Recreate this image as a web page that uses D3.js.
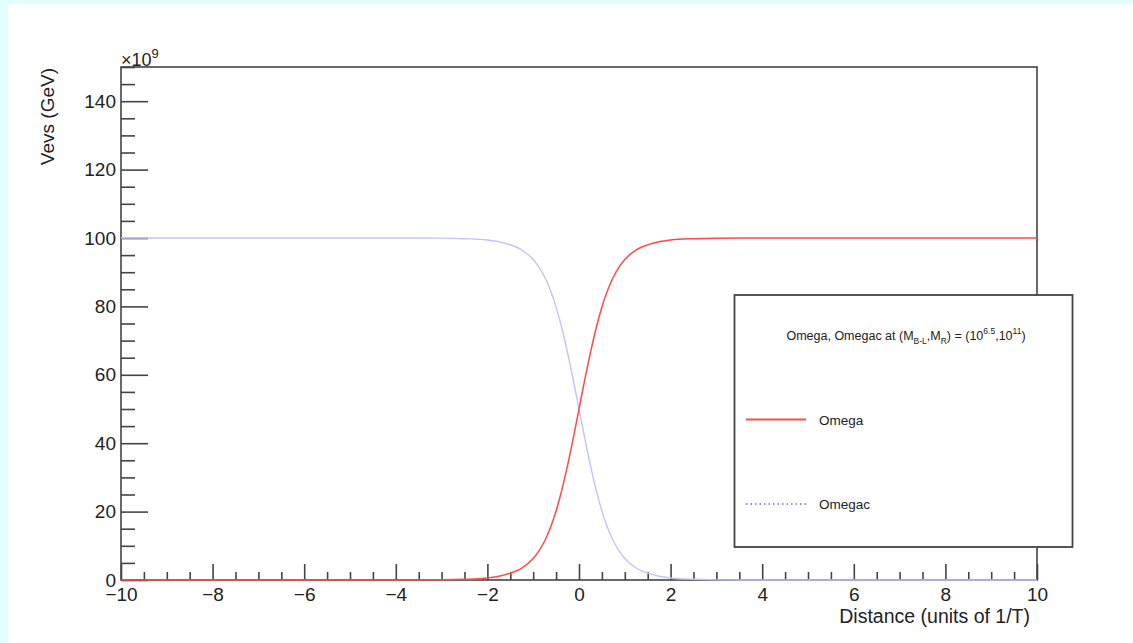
<!DOCTYPE html>
<html>
<head>
<meta charset="utf-8">
<script src="https://cdn.jsdelivr.net/npm/d3@7"></script>
<style>
  html, body { margin: 0; padding: 0; background: #e0fefe; }
  svg { display: block; }
  text { font-family: "Liberation Sans", Arial, Helvetica, sans-serif; fill: #222; }
</style>
</head>
<body>
<svg id="chart" width="1133" height="643"></svg>
<script>
// ---- data (values in units of 10^9 GeV) ----
const distance = [-10, -8, -6, -4, -3, -2.5, -2, -1.75, -1.5, -1.25, -1, -0.875, -0.75, -0.625, -0.5, -0.375, -0.25, -0.125,
                  0, 0.125, 0.25, 0.375, 0.5, 0.625, 0.75, 0.875, 1, 1.25, 1.5, 1.75, 2, 2.5, 3, 4, 6, 8, 10];
const omega    = [0, 0, 0, 0, 0.05, 0.2, 0.6, 1.1, 2.0, 3.5, 6.3, 8.5, 11.4, 15.3, 20.2, 26.3, 33.5, 41.5,
                  50, 58.5, 66.5, 73.7, 79.8, 84.7, 88.6, 91.5, 93.7, 96.5, 98.0, 98.9, 99.4, 99.8, 99.95, 100, 100, 100, 100];
const omegac   = [100, 100, 100, 100, 99.95, 99.8, 99.4, 98.9, 98.0, 96.5, 93.7, 91.5, 88.6, 84.7, 79.8, 73.7, 66.5, 58.5,
                  50, 41.5, 33.5, 26.3, 20.2, 15.3, 11.4, 8.5, 6.3, 3.5, 2.0, 1.1, 0.6, 0.2, 0.05, 0, 0, 0, 0];
const xMajorTicks = [-10, -8, -6, -4, -2, 0, 2, 4, 6, 8, 10];
const yMajorTicks = [0, 20, 40, 60, 80, 100, 120, 140];
const seriesNames = ["Omega", "Omegac"];

// ---- layout ----
const svg = d3.select("#chart");
const L = 121, R = 1037, T = 67, B = 580;

svg.append("rect").attr("x", 8).attr("y", 4).attr("width", 1125).attr("height", 639).attr("fill", "#ffffff");

const x = d3.scaleLinear().domain([-10, 10]).range([L, R]);
const y = d3.scaleLinear().domain([0, 150]).range([B, T]);

const fmt = d => (d < 0 ? "\u2212" + Math.abs(d) : String(d));

// minor ticks
const xMinor = d3.range(-10, 10.001, 0.5).filter(v => Math.abs(v / 2 - Math.round(v / 2)) > 1e-6);
const yMinor = d3.range(0, 150.001, 5).filter(v => v % 20 !== 0);

const gxMinor = svg.append("g").attr("transform", `translate(0,${B})`)
  .call(d3.axisBottom(x).tickValues(xMinor).tickSize(-8).tickFormat(""));
const gx = svg.append("g").attr("transform", `translate(0,${B})`)
  .call(d3.axisBottom(x).tickValues(xMajorTicks).tickSize(-16).tickPadding(8).tickFormat(fmt));
const gyMinor = svg.append("g").attr("transform", `translate(${L},0)`)
  .call(d3.axisLeft(y).tickValues(yMinor).tickSize(-14).tickFormat(""));
const gy = svg.append("g").attr("transform", `translate(${L},0)`)
  .call(d3.axisLeft(y).tickValues(yMajorTicks).tickSize(-27).tickPadding(5).tickFormat(fmt));

[gxMinor, gx, gyMinor, gy].forEach(g => {
  g.selectAll(".domain").remove();
  g.selectAll("line").attr("stroke", "#444").attr("stroke-width", 1.6);
  g.selectAll("text").style("font-size", "19px").attr("fill", "#222");
});

// frame
svg.append("rect").attr("x", L).attr("y", T).attr("width", R - L).attr("height", B - T)
  .attr("fill", "none").attr("stroke", "#444").attr("stroke-width", 1.6);

// curves
const pts = (vals) => distance.map((d, i) => [d, vals[i]]);
const line = d3.line().x(d => x(d[0])).y(d => y(d[1])).curve(d3.curveMonotoneX);

svg.append("path").attr("d", line(pts(omegac))).attr("fill", "none")
  .attr("stroke", "#c2c2ff").attr("stroke-width", 1.4);
svg.append("path").attr("d", line(pts(omega))).attr("fill", "none")
  .attr("stroke", "#ff4a4a").attr("stroke-width", 1.5);

// axis titles
svg.append("text").attr("x", R - 7).attr("y", 623).attr("text-anchor", "end")
  .style("font-size", "19.5px").text("Distance (units of 1/T)");
svg.append("text").attr("transform", `translate(54,${T + 1}) rotate(-90)`).attr("text-anchor", "end")
  .style("font-size", "19px").text("Vevs (GeV)");

const ex = svg.append("text").attr("x", L).attr("y", 66).style("font-size", "18px");
ex.append("tspan").text("\u00d710");
ex.append("tspan").attr("dy", -8).style("font-size", "13px").text("9");

// legend
const lg = svg.append("g");
lg.append("rect").attr("x", 734.5).attr("y", 295).attr("width", 338).attr("height", 252)
  .attr("fill", "#ffffff").attr("stroke", "#444").attr("stroke-width", 1.8);

const hdr = lg.append("text").attr("x", 906).attr("y", 340).attr("text-anchor", "middle").style("font-size", "12.5px");
hdr.append("tspan").text("Omega, Omegac at (M");
hdr.append("tspan").attr("dy", 4).style("font-size", "8.5px").text("B-L");
hdr.append("tspan").attr("dy", -4).text(",M");
hdr.append("tspan").attr("dy", 4).style("font-size", "8.5px").text("R");
hdr.append("tspan").attr("dy", -4).text(") = (10");
hdr.append("tspan").attr("dy", -6).style("font-size", "8.5px").text("6.5");
hdr.append("tspan").attr("dy", 6).text(",10");
hdr.append("tspan").attr("dy", -6).style("font-size", "8.5px").text("11");
hdr.append("tspan").attr("dy", 6).text(")");

const entries = [
  { name: seriesNames[0], y: 419.5, stroke: "#ff4a4a", dash: null, w: 2 },
  { name: seriesNames[1], y: 504, stroke: "#6a6aff", dash: "1.5,3", w: 1.5 }
];
entries.forEach(e => {
  const ln = lg.append("line").attr("x1", 746).attr("x2", 806).attr("y1", e.y).attr("y2", e.y)
    .attr("stroke", e.stroke).attr("stroke-width", e.w);
  if (e.dash) ln.attr("stroke-dasharray", e.dash);
  lg.append("text").attr("x", 819).attr("y", e.y + 5).style("font-size", "13.5px").text(e.name);
});
</script>
</body>
</html>
